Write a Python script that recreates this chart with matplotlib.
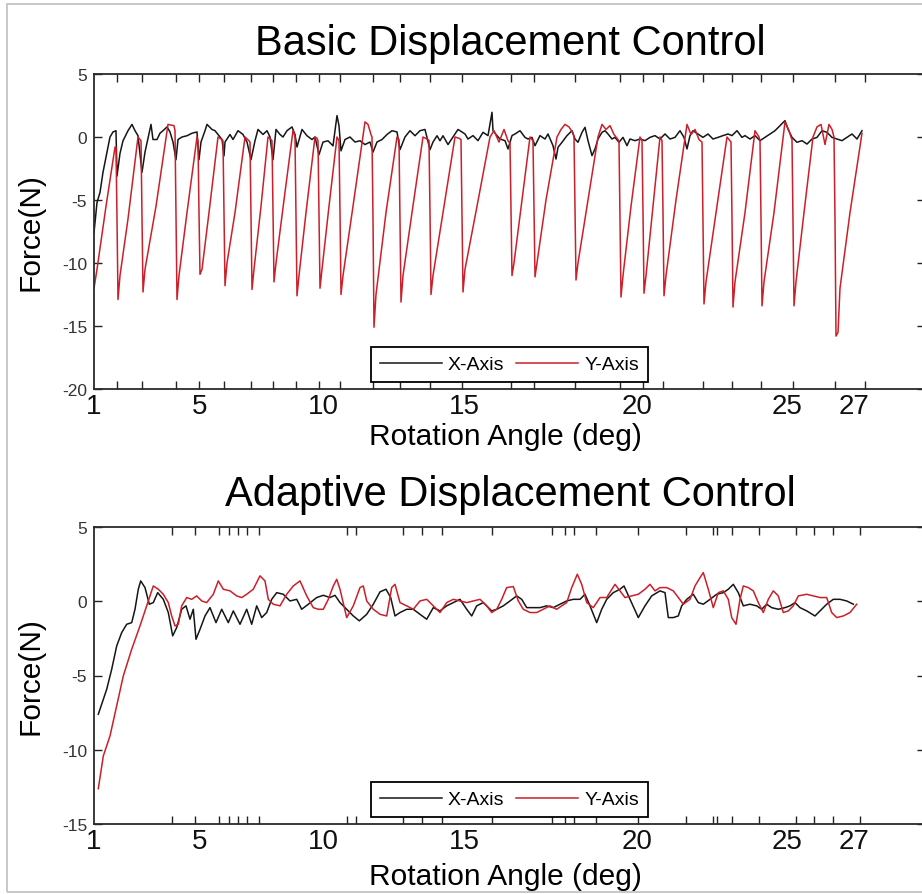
import matplotlib
matplotlib.use('Agg')
import matplotlib.pyplot as plt
from matplotlib.patches import Rectangle

plt.rcParams['font.family'] = ['Liberation Sans', 'DejaVu Sans']
plt.rcParams['axes.unicode_minus'] = False

# ---------------- data (x = sample index, y = force in N) ----------------
tick_label_pos = [0, 106, 229, 370, 543, 693, 760]
tick_label_txt = ['1', '5', '10', '15', '20', '25', '27']

top_steps = [0, 23, 48, 82, 105, 130, 157, 179, 202, 225, 246, 279, 306, 336,
             368, 417, 440, 481, 526, 549, 569, 609, 638, 667, 699, 741, 771]
bot_steps = [0, 78, 101, 125, 135, 144, 153, 165, 253, 262, 309, 328, 348, 398,
             458, 471, 480, 502, 544, 592, 619, 623, 638, 665, 702, 720, 739, 766]

top_red_x = [0, 3, 12, 21, 22, 23, 24, 26, 34, 44, 46, 47, 48, 49, 51, 62, 74, 80,
             81, 82, 83, 85, 93, 103, 104, 105, 106, 108, 115, 124, 128,
             129, 130, 131, 133, 141, 151, 155, 156, 157, 158, 160, 167, 174, 177,
             178, 179, 180, 182, 190, 199, 200, 201, 202, 203, 205, 212, 221, 223,
             224, 225, 226, 228, 235, 243, 245, 246, 247, 249, 259, 271, 274, 277,
             278, 279, 280, 282, 292, 303, 305, 306, 307, 309, 318, 329, 334,
             335, 336, 337, 339, 349, 361, 365,
             367, 368, 369, 371, 383, 396, 400, 405, 410, 414,
             416, 417, 418, 420, 428, 436, 438,
             439, 440, 441, 443, 452, 463, 467, 471, 475, 479,
             480, 481, 482, 484, 494, 504, 508, 512, 516, 520, 524,
             525, 526, 527, 529, 537, 546, 548, 549, 550, 552, 559, 566, 568,
             569, 570, 572, 582, 593, 597, 601, 605,
             608, 609, 610, 612, 622, 633, 636, 637, 638, 639, 641, 651, 661, 665,
             666, 667, 668, 670, 680, 691, 695, 697,
             698, 699, 700, 702, 710, 719, 723, 727, 731, 735, 738, 740,
             741, 742, 744, 746, 756, 768]
top_red_y = [-12.0, -10.5, -5.5, -0.8, -0.8, -6.5, -12.9, -11.0, -6.5, 0.0, -0.2,
             -0.3, -6.5, -12.3, -10.5, -5.5, 1.0, 0.9,
             0.5, -6.5, -12.9, -11.0, -6.0, 0.0, -0.3, -6.0, -10.9, -10.5, -6.0, 0.0, -0.2,
             -0.3, -6.0, -11.8, -10.0, -6.0, 0.0, -0.3, -0.4, -6.0, -12.1, -10.5, -5.5, 0.0, -0.2,
             -0.3, -6.0, -11.5, -10.0, -5.0, 0.5, 0.3, 0.0, -6.0, -12.6, -11.0, -6.0, 0.0, -0.1,
             -0.3, -6.0, -12.0, -10.5, -5.5, 0.0, -0.3, -6.0, -12.5, -11.0, -5.5, 1.2, 1.0, 0.2,
             0.0, -6.5, -15.1, -12.5, -6.0, 0.0, -0.2, -6.5, -13.1, -11.0, -6.0, 0.0, -0.2,
             -0.3, -6.0, -12.5, -11.0, -6.0, 0.0, -0.1,
             -0.2, -6.0, -12.3, -10.5, -5.5, 0.0, 0.5, -0.4, 0.6, -0.3,
             -0.5, -6.0, -11.0, -10.0, -5.0, 0.0, -0.2,
             -0.3, -6.0, -11.1, -10.0, -5.0, 0.0, 0.6, 1.0, 0.8, 0.3,
             0.0, -6.0, -11.35, -10.0, -5.0, 0.0, 1.0, 0.6, 0.9, 0.2, -0.2,
             -0.4, -6.5, -12.7, -11.0, -5.5, 0.0, -0.3, -6.0, -12.4, -11.0, -5.5, 0.0, -0.3,
             -6.0, -12.6, -11.0, -5.0, 1.0, 0.2, 0.6, -0.2,
             -0.4, -6.5, -13.25, -11.5, -6.0, 0.0, -0.3, -0.4, -6.5, -13.5, -11.5, -6.0, 0.5, 0.0,
             -0.3, -6.5, -13.4, -11.5, -6.0, 1.2, 0.5, 0.0,
             -0.2, -6.5, -13.4, -11.5, -6.0, 0.0, 0.8, 1.0, -0.6, 1.0, 0.6, 0.0,
             -6.5, -15.8, -15.5, -12.0, -6.0, 0.3]

top_black_x = [0, 3, 6, 9, 13, 16, 19, 22, 23, 26, 29, 34, 38, 41, 44, 48, 51, 54, 57, 59,
               63, 66, 69, 73, 76, 79, 82, 84, 88, 93, 98, 103, 105, 107, 111, 113, 118, 121,
               124, 128, 130, 131, 136, 139, 144, 149, 153, 157, 161, 164, 169, 173, 176, 179,
               182, 186, 189, 193, 198, 201, 203, 208, 213, 218, 221, 225, 229, 234, 239, 243,
               245, 247, 251, 256, 261, 266, 271, 276, 279, 283, 288, 293, 298, 303, 306, 311,
               316, 321, 326, 331, 336, 339, 343, 346, 349, 354, 359, 364,
               366, 371, 374, 379, 384, 389, 394, 398, 399, 403, 406, 411, 414, 418, 421, 426,
               431, 434, 438, 441, 446, 451, 454, 459, 462, 464, 468, 473, 478, 481, 484, 488,
               491, 494, 498, 501, 504, 508, 511, 514, 518, 521, 525, 529, 533, 536, 541, 546,
               551, 556, 561, 566, 571, 576, 581, 586, 590, 593, 596, 599, 604, 609, 614, 619,
               624, 629, 634, 638, 643, 648, 651, 656, 661, 666, 671, 676, 681, 686, 691, 694,
               698, 703, 708, 713, 718, 723, 728, 733, 738, 743, 748, 753, 758, 763, 768]
top_black_y = [-7.6, -5.2, -4.4, -2.8, -1.2, 0.0, 0.4, 0.5, -3.1, -1.3, -0.3, 0.5, 1.0, 0.5, 0.1,
               -2.8, -1.2, -0.1, 1.0, -0.2, -0.2, 0.3, 0.5, 0.8, 0.4, -0.4, -1.8, -0.2, 0.0, 0.1,
               0.3, 0.4, -1.8, -0.4, 0.5, 1.0, 0.6, 0.5, 0.2, -0.2, -1.5, -0.4, 0.2, -0.2, 0.5,
               0.2, -0.4, -1.8, -0.3, 0.6, 0.2, 0.5, 0.0, -1.8, 0.6, 0.2, 0.0, 0.5, 0.8, 0.2,
               -0.8, 0.6, 0.1, -0.2, 0.0, -1.4, -0.4, -0.3, -0.7, 1.7, 0.9, -1.1, -0.2, 0.0,
               -0.4, -0.3, -0.6, -0.4, -1.2, -0.4, -0.2, 0.2, 0.5, 0.4, -1.0, 0.0, 0.5, 0.1,
               0.5, 0.6, -1.0, -0.4, 0.1, -0.3, 0.1, -0.6, 0.0, 0.6,
               0.5, 0.24, -0.16, 0.11, -0.29, 0.37, 0.11, 1.96, 0.5, 0.11, -0.16, -0.29, -0.95,
               0.11, 0.24, 0.5, -0.03, -0.16, -0.03, -0.69, 0.11, -0.16, 0.24, -0.69, -1.75,
               -0.82, -0.42, 0.11, 0.5, -0.16, -0.42, 0.37, 0.77, -0.29, -1.48, -0.95, -0.16,
               0.37, 0.5, 0.24, -0.16, -0.03, -0.42, -0.03, -0.69, -0.16, -0.29, -0.16, -0.29,
               -0.03, 0.11, -0.16, 0.24, -0.16, -0.03, 0.5, -0.03, -0.95, 0.11, 0.5, 0.24,
               -0.03, 0.24, -0.16, -0.03, 0.11, 0.24, 0.11, 0.5, -0.03, 0.11, -0.16, 0.11,
               -0.29, -0.03, 0.24, 0.5, 0.9, 1.3, 0.63, -0.03, -0.42, -0.29, -0.56, -0.16,
               -0.03, 0.5, 0.37, -0.03, -0.16, -0.29, -0.03, 0.24, -0.16, 0.5]

bot_black_x = [4.3, 12.7, 17.7, 22.7, 27.7, 32.7, 37.7, 41, 44.3, 46.7, 51, 55.3, 59.3, 63.7,
               69.3, 74.3, 78.7, 82.7, 87.7, 92, 96, 99.3, 102, 106, 111, 116, 122, 127.7,
               134.3, 139.3, 146, 152.7, 157.7, 162.7, 167.7, 172.7, 177.7, 182.7, 189.3, 196,
               202.7, 207.7, 214.3, 222.7, 229.3, 236, 241, 246, 252.7, 259.3, 265.3, 272.7,
               279.3, 286, 292, 296.7, 301, 306, 312.7, 319.3, 326, 332.7, 339.3, 346, 352.7,
               359.3, 366,
               372.7, 377.7, 382.7, 389.3, 397.7, 402.7, 409.3, 416, 422.7, 427.7, 432.7, 439.3,
               446, 452.7, 459.3, 466, 472.7, 479.3, 486, 491, 496, 502.7, 507.7, 512.7, 519.3,
               526, 530, 536, 544.3, 551, 557.7, 566, 571, 574.3, 579.3, 584.3, 587.7, 592.7,
               599.3, 604.3, 609.3, 616, 622.7, 629.3, 634.3, 639.3, 644.3, 649.3, 656, 662.7,
               667.7, 672.7, 677.7, 684.3, 691, 696, 701, 706, 712.7, 721, 726, 732.7, 739.3,
               746, 752.7, 759.3]
bot_black_y = [-7.61, -5.93, -4.58, -3.01, -2.11, -1.55, -1.44, -0.54, 0.81, 1.37, 0.92, -0.2,
               -0.09, 0.58, 0.13, -0.76, -2.33, -1.77, -0.54, -0.31, -1.21, -0.54, -2.56, -1.89,
               -0.99, -0.43, -1.44, -0.54, -1.44, -0.65, -1.55, -0.54, -1.55, -0.31, -1.10,
               -0.76, 0.13, 0.58, 0.47, 0.02, 0.13, -0.54, -0.2, 0.25, 0.40, 0.25, 0.40, -0.09,
               -0.54, -0.99, -1.32, -0.88, -0.2, 0.63, 0.81, 0.25, -0.99, -0.76, -0.54, -0.54,
               -0.88, -1.21, -0.43, -0.65, -0.31, -0.09, 0.13,
               -0.54, -0.99, -0.31, -0.09, -0.65, -0.54, -0.31, 0.02, 0.36, 0.13, -0.43, -0.43,
               -0.43, -0.31, -0.43, -0.2, 0.02, 0.13, 0.13, 0.47, -0.31, -1.44, -0.54, 0.13,
               0.58, 0.81, 1.03, 0.13, -1.10, -0.31, 0.36, 0.7, 0.58, -1.10, -1.10, -0.99,
               -0.31, 0.13, 0.47, -0.09, -0.2, 0.13, 0.47, 0.58, 0.81, 1.14, 0.58, -0.31, -0.2,
               -0.31, -0.54, -0.2, -0.43, -0.54, -0.43, -0.31, -0.09, -0.43, -0.65, -0.99,
               -0.65, -0.2, 0.13, 0.13, 0.02, -0.2]

bot_red_x = [4.3, 9.3, 16, 22.7, 29.3, 37.7, 46, 52.7, 59.3, 64.3, 69.3, 74.3, 77.7, 81, 84.3,
             87.7, 92.7, 97.7, 102.7, 107.7, 112.7, 119.3, 124.3, 129.3, 136, 142.7, 147.7,
             152.7, 159.3, 166, 171, 174.3, 179.3, 186, 192.7, 199.3, 206, 212.7, 219.3, 224.3,
             229.3, 234.3, 239.3, 242.7, 246, 252.7, 259.3, 266, 269.3, 272.7, 279.3, 286,
             292.7, 297.7, 301, 306, 312.7, 319.3, 326, 332.7, 339.3, 346, 352.7, 359.3, 366,
             372.7, 379.3, 386, 392.7, 397.7, 402.7, 407.7, 412.7, 419.3, 424.3, 429.3, 436,
             442.7, 449.3, 456, 462.7, 467.7, 472.7, 477.7, 483.3, 487.7, 492.7, 499.3, 506,
             512.7, 521, 526, 531, 537.7, 544.3, 551, 556, 561, 566, 572.7, 579.3, 584.3,
             589.3, 596, 601, 606, 609.3, 614.3, 619.3, 624.3, 629.3, 634.3, 637.7, 642, 646,
             649.3, 654.3, 659.3, 664.3, 669.3, 674.3, 679.3, 684.3, 689.3, 694.3, 699.3,
             704.3, 712.7, 719.3, 726, 732.7, 737.7, 742.7, 749.3, 756, 762.7]
bot_red_y = [-12.62, -10.42, -9.07, -7.05, -5.03, -3.23, -1.66, -0.31, 1.03, 0.81, 0.47, -0.09,
             -0.99, -1.66, -1.55, -0.31, 0.25, 0.13, 0.36, 0.02, -0.09, 0.47, 1.37, 0.81, 0.7,
             0.36, 0.25, 0.47, 0.81, 1.71, 1.37, 0.13, -0.2, -0.31, 0.47, 1.03, 1.37, 0.36,
             -0.43, -0.54, -0.54, 0.13, 1.03, 1.48, 0.81, -1.10, -0.31, 0.92, 1.03, 0.02,
             -0.54, -0.88, -0.99, 0.92, 1.14, -0.09, -0.31, -0.54, 0.02, 0.13, -0.31, -0.76,
             -0.09, 0.13, 0.02,
             -0.09, 0.02, 0.13, -0.31, -0.76, -0.54, 0.13, 0.92, 0.99, 0.02, -0.54, -0.76,
             -0.76, -0.54, -0.31, -0.54, -0.31, -0.09, 0.92, 1.82, 1.14, -0.09, -0.43, 0.25,
             0.25, 1.14, 0.7, 0.25, 0.36, 0.47, 0.81, 1.14, 0.7, 0.92, 0.92, 0.7, 0.25, -0.2,
             0.13, 1.03, 1.59, 1.93, 0.81, -0.43, 0.58, 0.7, 0.13, -1.10, -1.55, 0.13, 1.03,
             0.92, 0.7, -0.09, -0.76, 0.13, 0.7, 0.36, -0.76, -0.65, -0.31, 0.36, 0.47, 0.36,
             0.25, 0.25, -0.76, -1.10, -0.99, -0.76, -0.2]

series_names = ['X-Axis', 'Y-Axis']
titles = ['Basic Displacement Control', 'Adaptive Displacement Control']

# ---------------- figure ----------------
W, H = 922, 895
fig = plt.figure(figsize=(W / 100, H / 100), dpi=100)
fig.patches.append(Rectangle((7 / W, 1 - 893 / H), 930 / W, 888 / H,
                             transform=fig.transFigure, fill=False,
                             edgecolor='#c4c4c4', lw=1.3))


def px_axes(l, t, r, b):
    return [l / W, 1 - b / H, (r - l) / W, (b - t) / H]


ax1 = fig.add_axes(px_axes(94, 75, 925, 390))
ax2 = fig.add_axes(px_axes(94, 528, 925, 825))

BLACK = '#161616'
RED = '#cc1f2a'


def style(ax, steps, ylim, yticks, xlab_y):
    ax.set_xlim(0, 831)
    ax.set_ylim(*ylim)
    ax.set_yticks(yticks)
    ax.set_yticklabels([str(v) for v in yticks])
    ax.set_xticks(tick_label_pos)
    ax.set_xticklabels(tick_label_txt)
    ax.set_xticks(steps, minor=True)
    ax.tick_params(axis='x', which='major', length=0, pad=3, labelsize=20,
                   labelcolor='#111111')
    ax.tick_params(axis='x', which='minor', direction='in', length=5.5, width=1.0,
                   top=True, bottom=True, color='#222222')
    ax.tick_params(axis='y', which='major', direction='in', length=5.5, width=1.0,
                   left=True, right=True, labelsize=12.5, pad=5,
                   labelcolor='#333333', color='#222222')
    for s in ax.spines.values():
        s.set_linewidth(1.3)
        s.set_color('#2a2a2a')
    ax.set_xlabel('Rotation Angle (deg)', fontsize=21.5)
    ax.xaxis.set_label_coords(0.4946, xlab_y)
    ax.set_ylabel('Force(N)', fontsize=21.5)
    ax.yaxis.set_label_coords(-0.059, 0.5)
    leg = ax.legend(loc='lower center', ncol=2, fontsize=14, frameon=True,
                    fancybox=False, edgecolor='black', framealpha=1,
                    handlelength=3.2, handletextpad=0.3, columnspacing=0.6,
                    borderpad=0.45, borderaxespad=0.35)
    leg.get_frame().set_linewidth(1.3)


ax1.plot(top_black_x, top_black_y, color=BLACK, lw=1.1, label=series_names[0])
ax1.plot(top_red_x, top_red_y, color=RED, lw=1.1, label=series_names[1])
style(ax1, top_steps, (-20, 5), [5, 0, -5, -10, -15, -20], -0.105)

ax2.plot(bot_black_x, bot_black_y, color=BLACK, lw=1.1, label=series_names[0])
ax2.plot(bot_red_x, bot_red_y, color=RED, lw=1.1, label=series_names[1])
style(ax2, bot_steps, (-15, 5), [5, 0, -5, -10, -15], -0.128)

fig.text(510 / W, 1 - 55 / H, titles[0], ha='center', va='baseline', fontsize=30)
fig.text(510 / W, 1 - 506 / H, titles[1], ha='center', va='baseline', fontsize=30)

fig.savefig('out.png', dpi=100)
